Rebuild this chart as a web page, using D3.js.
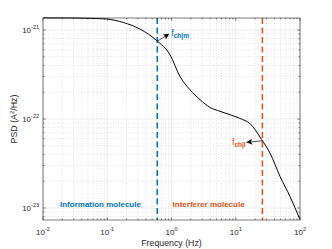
<!DOCTYPE html>
<html><head><meta charset="utf-8">
<script src="https://cdn.jsdelivr.net/npm/d3@7"></script>
<style>body{margin:0;background:#fff}svg{display:block}text{font-family:"Liberation Sans",Arial,Helvetica,sans-serif}</style>
</head><body><svg id="c" width="332" height="249"></svg>
<script>
// ---- data ----
const freq = [0.01, 0.03, 0.0646, 0.098, 0.178, 0.324, 0.589, 0.948, 1.355, 1.94, 2.78, 3.97, 5.69, 8.15, 11.6, 16.7, 25.4, 34.1, 48.9, 69.8, 100];
const psd  = [1.37e-21, 1.365e-21, 1.349e-21, 1.33e-21, 1.216e-21, 1.023e-21, 7.6e-22, 5.27e-22, 3.01e-22, 2.13e-22, 1.65e-22, 1.35e-22, 1.22e-22, 1.117e-22, 1.016e-22, 8.85e-23, 5.85e-23, 4.15e-23, 2.26e-23, 1.35e-23, 7.4e-24];
const xTickVals = [0.01, 0.1, 1, 10, 100];
const xTickExps = ["-2", "-1", "0", "1", "2"];
const yTickVals = [1e-23, 1e-22, 1e-21];
const yTickExps = ["-23", "-22", "-21"];
const cutoffFreqs = [0.6, 26];           // f_ch|m , f_ch|I
const cutoffNames = ["ch|m", "ch|I"];
const regionNames = ["Information molecule", "Interferer molecule"];
const xDomain = [0.01, 100];
const yDomain = [7.33e-24, 1.365e-21];

// ---- layout ----
const L = 43, R = 300, T = 18, B = 220;
const blue = "#0072BD", orange = "#D95319", axc = "#262626";
const svg = d3.select("#c");
const x = d3.scaleLog().domain(xDomain).range([L, R]);
const y = d3.scaleLog().domain(yDomain).range([B, T]);

function minors(dom) {
  const out = [];
  for (let e = Math.floor(Math.log10(dom[0])); e <= Math.ceil(Math.log10(dom[1])); e++)
    for (let k = 2; k <= 9; k++) { const v = k * Math.pow(10, e); if (v > dom[0] && v < dom[1]) out.push(v); }
  return out;
}
const xMin = minors(xDomain), yMin = minors(yDomain);

const grid = svg.append("g");
grid.selectAll(".xm").data(xMin).join("line")
  .attr("x1", d => x(d)).attr("x2", d => x(d)).attr("y1", T).attr("y2", B)
  .attr("stroke", "#d2d2d2").attr("stroke-width", 0.6).attr("stroke-dasharray", "1,1.5");
grid.selectAll(".ym").data(yMin).join("line")
  .attr("y1", d => y(d)).attr("y2", d => y(d)).attr("x1", L).attr("x2", R)
  .attr("stroke", "#d2d2d2").attr("stroke-width", 0.6).attr("stroke-dasharray", "1,1.5");
grid.selectAll(".xM").data(xTickVals).join("line")
  .attr("x1", d => x(d)).attr("x2", d => x(d)).attr("y1", T).attr("y2", B)
  .attr("stroke", "#e0e0e0").attr("stroke-width", 0.6);
grid.selectAll(".yM").data(yTickVals).join("line")
  .attr("y1", d => y(d)).attr("y2", d => y(d)).attr("x1", L).attr("x2", R)
  .attr("stroke", "#e0e0e0").attr("stroke-width", 0.6);

// cutoff dashed lines
svg.selectAll(".cut").data(cutoffFreqs).join("line")
  .attr("x1", d => x(d)).attr("x2", d => x(d)).attr("y1", T).attr("y2", B)
  .attr("stroke", (d, i) => i ? orange : blue).attr("stroke-width", 1.5)
  .attr("stroke-dasharray", "6,3.5");

// curve
const pts = freq.map((f, i) => [x(f), y(psd[i])]);
svg.append("path").attr("d", d3.line().curve(d3.curveMonotoneX)(pts))
  .attr("fill", "none").attr("stroke", "#000").attr("stroke-width", 1);

// axes box and ticks
const ax = svg.append("g").attr("stroke", axc).attr("stroke-width", 0.6);
ax.append("rect").attr("x", L).attr("y", T).attr("width", R - L).attr("height", B - T).attr("fill", "none");
const tick = (vals, len, isX) => {
  vals.forEach(v => {
    if (isX) {
      ax.append("line").attr("x1", x(v)).attr("x2", x(v)).attr("y1", B).attr("y2", B - len);
      ax.append("line").attr("x1", x(v)).attr("x2", x(v)).attr("y1", T).attr("y2", T + len);
    } else {
      ax.append("line").attr("y1", y(v)).attr("y2", y(v)).attr("x1", L).attr("x2", L + len);
      ax.append("line").attr("y1", y(v)).attr("y2", y(v)).attr("x1", R).attr("x2", R - len);
    }
  });
};
tick(xTickVals, 2.6, true); tick(xMin, 1.4, true);
tick(yTickVals, 2.6, false); tick(yMin, 1.4, false);

// tick labels
const fs = 8;
xTickVals.forEach((v, i) => {
  const t = svg.append("text").attr("x", x(v)).attr("y", B + 15).attr("text-anchor", "middle")
    .attr("fill", axc).attr("font-size", fs);
  t.append("tspan").text("10");
  t.append("tspan").attr("dy", -4).attr("font-size", 5.5).text(xTickExps[i]);
});
yTickVals.forEach((v, i) => {
  const t = svg.append("text").attr("x", L - 4).attr("y", y(v) + 3).attr("text-anchor", "end")
    .attr("fill", axc).attr("font-size", fs);
  t.append("tspan").text("10");
  t.append("tspan").attr("dy", -4).attr("font-size", 5.5).text(yTickExps[i]);
});

// axis labels
svg.append("text").attr("x", (L + R) / 2).attr("y", B + 26).attr("text-anchor", "middle")
  .attr("fill", axc).attr("font-size", 8.8).text("Frequency (Hz)");
const yl = svg.append("text").attr("transform", `translate(17,${(T + B) / 2}) rotate(-90)`)
  .attr("text-anchor", "middle").attr("fill", axc).attr("font-size", 8.8);
yl.append("tspan").text("PSD (A");
yl.append("tspan").attr("dy", -3.5).attr("font-size", 6).text("2");
yl.append("tspan").attr("dy", 3.5).text("/Hz)");

// region labels
const regionPos = [[0.0184, 1.035e-23], [1.04, 1.035e-23]];
regionNames.forEach((n, i) => {
  svg.append("text").attr("x", x(regionPos[i][0])).attr("y", y(regionPos[i][1]))
    .attr("fill", i ? orange : blue).attr("font-size", 8).attr("font-weight", "bold").text(n);
});

// arrows + cutoff annotations
const defs = svg.append("defs");
defs.append("marker").attr("id", "ah").attr("viewBox", "0 0 10 10").attr("refX", 9).attr("refY", 5)
  .attr("markerWidth", 6).attr("markerHeight", 6).attr("markerUnits", "userSpaceOnUse").attr("orient", "auto")
  .append("path").attr("d", "M0,0L10,5L0,10L2.5,5Z").attr("fill", "#000");
const interp = f => {
  const lf = Math.log10(f);
  for (let i = 1; i < freq.length; i++) {
    const a = Math.log10(freq[i - 1]), b = Math.log10(freq[i]);
    if (lf <= b) { const t = (lf - a) / (b - a); return Math.pow(10, Math.log10(psd[i - 1]) + t * (Math.log10(psd[i]) - Math.log10(psd[i - 1]))); }
  }
  return psd[psd.length - 1];
};
const ann = [
  { head: [11.5, -7], tx: [14, -5], col: blue },
  { head: [-15.5, 1.5], tx: [-30.5, 4.5], col: orange }
];
cutoffFreqs.forEach((f, i) => {
  const px = x(f), py = y(interp(f));
  const a = ann[i];
  svg.append("line").attr("x1", px).attr("y1", py).attr("x2", px + a.head[0]).attr("y2", py + a.head[1])
    .attr("stroke", "#000").attr("stroke-width", 0.7).attr("marker-end", "url(#ah)");
  const t = svg.append("text").attr("x", px + a.tx[0]).attr("y", py + a.tx[1]).attr("fill", a.col).attr("font-size", 9);
  t.append("tspan").text("f");
  t.append("tspan").attr("dy", 2.2).attr("font-size", 6.5).attr("font-weight", "bold").text(cutoffNames[i]);
});
</script></body></html>
